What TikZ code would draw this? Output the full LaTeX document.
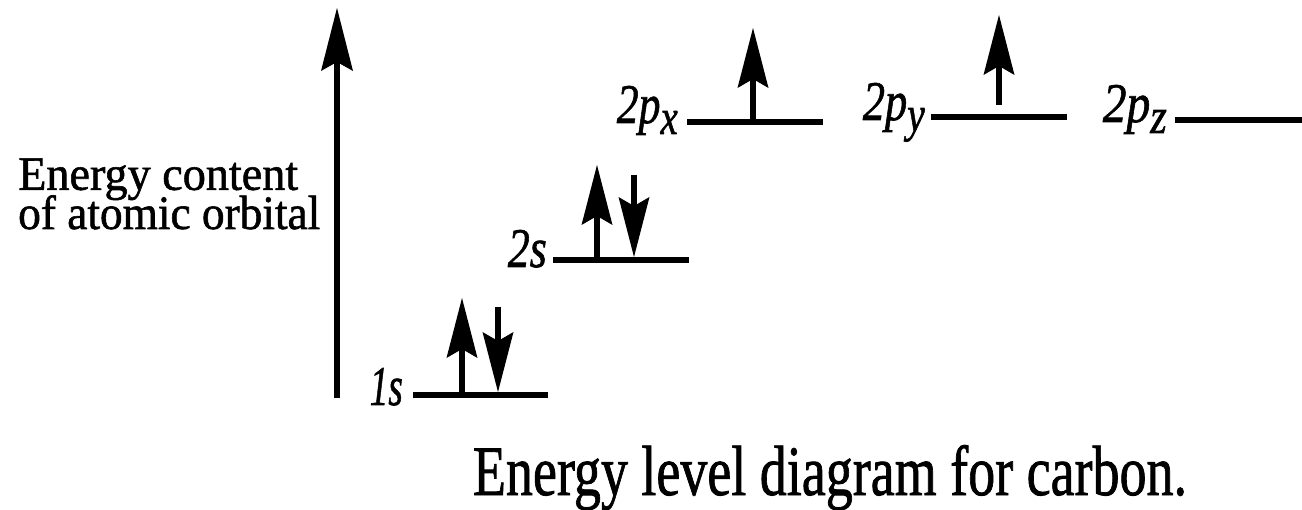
\documentclass[tikz,border=0pt]{standalone}
\usepackage{fontspec}
\setmainfont{Liberation Serif}[FakeBold=1.2]
\newfontfamily\timesfont{Liberation Serif}[FakeBold=1.2]
\usepackage{graphicx}
\usetikzlibrary{arrows.meta}
\newcommand{\squeeze}[2]{\resizebox{#1}{\height}{#2}}
\newcommand{\orbsub}[1]{\raisebox{-11pt}{\fontsize{50}{50}\selectfont #1}}
\tikzset{
    level/.style={line width=6.5pt},
    spin/.style={line width=6pt, -{Stealth[length=60pt, width=31pt, inset=9pt, line width=0pt]}},
    axis/.style={line width=6pt, -{Stealth[length=63pt, width=32pt, inset=9pt, line width=0pt]}},
    orb/.style={anchor=base east, inner sep=0pt, font=\timesfont\fontsize{56}{56}\selectfont\itshape},
    title/.style={inner sep=0pt, font=\timesfont\fontsize{71}{71}\selectfont}
}

\begin{document}
\begin{tikzpicture}[x=1pt, y=-1pt]
  \useasboundingbox (0,0) rectangle (1302,510);

  % --- energy axis ---
  \coordinate (ax0) at (337,398);
  \coordinate (ax1) at (337,8);
  \draw[axis] (ax0) -- (ax1);
  \node[inner sep=0pt, anchor=base west, align=left,
        font=\timesfont\fontsize{48}{35}\selectfont] (axlab) at (18,229)
        {\squeeze{280pt}{Energy content}\\[-6pt]\squeeze{302pt}{of atomic orbital}};

  % --- levels ---
  \coordinate (s1a) at (413,395);  \coordinate (s1b) at (548,395);
  \coordinate (s2a) at (553,260);  \coordinate (s2b) at (689,260);
  \coordinate (pxa) at (687,122);  \coordinate (pxb) at (823,122);
  \coordinate (pya) at (931,117);  \coordinate (pyb) at (1067,117);
  \coordinate (pza) at (1175,120); \coordinate (pzb) at (1302,120);
  \draw[level] (s1a) -- (s1b);
  \draw[level] (s2a) -- (s2b);
  \draw[level] (pxa) -- (pxb);
  \draw[level] (pya) -- (pyb);
  \draw[level] (pza) -- (pzb);

  % --- labels ---
  \node[orb] (l1s) at (403,405) {\squeeze{33pt}{1s}};
  \node[orb] (l2s) at (547,267) {\squeeze{39pt}{2s}};
  \node[orb] (lpx) at (678,123) {\squeeze{61pt}{2p\orbsub{x}}};
  \node[orb] (lpy) at (925,120) {\squeeze{62pt}{2p\orbsub{y}}};
  \node[orb] (lpz) at (1167,122) {\squeeze{64pt}{2p\orbsub{z}}};

  % --- electrons ---
  \coordinate (e1u0) at (462,395); \coordinate (e1u1) at (462,298);
  \coordinate (e1d0) at (498,307); \coordinate (e1d1) at (498,392);
  \coordinate (e2u0) at (597,260); \coordinate (e2u1) at (597,165);
  \coordinate (e2d0) at (634,175); \coordinate (e2d1) at (634,257);
  \coordinate (exu0) at (753,122); \coordinate (exu1) at (753,28);
  \coordinate (eyu0) at (999,105); \coordinate (eyu1) at (999,15);
  \draw[spin] (e1u0) -- (e1u1);
  \draw[spin] (e1d0) -- (e1d1);
  \draw[spin] (e2u0) -- (e2u1);
  \draw[spin] (e2d0) -- (e2d1);
  \draw[spin] (exu0) -- (exu1);
  \draw[spin] (eyu0) -- (eyu1);

  % --- caption ---
  \node[title, anchor=base] (cap) at (830,495)
        {\squeeze{714pt}{Energy level diagram for carbon.}};
\end{tikzpicture}
\end{document}
